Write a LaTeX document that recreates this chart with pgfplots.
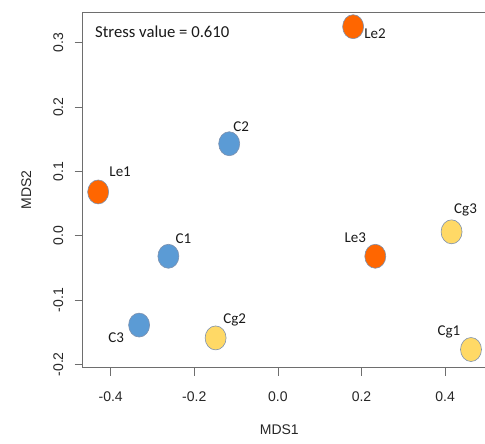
\documentclass[border=0pt]{standalone}
\usepackage{pgfplots}
\pgfplotsset{compat=1.18}
\usepackage{pgfplotstable}
\usepackage{fontspec}
\setmainfont{Liberation Sans}
\newfontfamily\carlito{Carlito}
\definecolor{cblue}{HTML}{5B9BD5}
\definecolor{corange}{HTML}{FF6600}
\definecolor{cyellow}{HTML}{FFD966}
\definecolor{cedge}{RGB}{125,145,175}
\definecolor{axgray}{RGB}{110,110,110}

\pgfplotstableread{
x y label dx dy
-0.430 0.068 Le1 22 20
0.180 0.325 Le2 22 -7
0.233 -0.032 Le3 -20 19
}\leTable
\pgfplotstableread{
x y label dx dy
-0.262 -0.032 C1 15 18
-0.1165 0.143 C2 12 17
-0.332 -0.139 C3 -23 -13
}\cTable
\pgfplotstableread{
x y label dx dy
0.462 -0.177 Cg1 -22 18
-0.149 -0.159 Cg2 19 18
0.4155 0.006 Cg3 14 22
}\cgTable

\begin{document}
\begin{tikzpicture}
\begin{axis}[
  at={(0,0)}, anchor=south west,
  scale only axis, width=402.3bp, height=355.4bp,
  xmin=-0.467, xmax=0.4955, ymin=-0.2053, ymax=0.3474,
  axis x line*=bottom, axis y line*=left,
  axis line style={draw=axgray, line width=0.6pt, -},
  every tick/.style={draw=axgray, line width=0.6pt},
  tick align=outside, major tick length=8bp,
  xtick={-0.4,-0.2,0,0.2,0.4},
  xticklabels={-0.4,-0.2,0.0,0.2,0.4},
  ytick={-0.2,-0.1,0,0.1,0.2,0.3},
  yticklabels={-0.2,-0.1,0.0,0.1,0.2,0.3},
  tick label style={font=\fontsize{14bp}{16bp}\selectfont, text=black!85},
  yticklabel style={rotate=90, anchor=south},
  xticklabel shift=13bp, yticklabel shift=8bp,
  every axis x label/.style={at={(axis description cs:0.4887,-0.1745)}, anchor=center},
  every axis y label/.style={at={(axis description cs:-0.14,0.5)}, anchor=center, rotate=90},
  label style={font=\fontsize{14bp}{16bp}\selectfont, text=black!85},
  xlabel={MDS1}, ylabel={MDS2},
  clip=false,
  nodes near coords,
  point meta=explicit symbolic,
  visualization depends on={\thisrow{dx} \as \dx},
  visualization depends on={\thisrow{dy} \as \dy},
  nodes near coords style={anchor=center, xshift=\dx bp, yshift=\dy bp,
     font=\carlito\fontsize{15bp}{17bp}\selectfont, text=black!90, inner sep=0pt},
]
\addplot[only marks, mark=*, mark size=12bp,
  mark options={xscale=0.875, fill=corange, draw=cedge, line width=0.6pt}]
  table[x=x, y=y, meta=label] {\leTable};
\addplot[only marks, mark=*, mark size=12bp,
  mark options={xscale=0.875, fill=cblue, draw=cedge, line width=0.6pt}]
  table[x=x, y=y, meta=label] {\cTable};
\addplot[only marks, mark=*, mark size=12bp,
  mark options={xscale=0.875, fill=cyellow, draw=cedge, line width=0.6pt}]
  table[x=x, y=y, meta=label] {\cgTable};
\draw[axgray, line width=0.6pt] (rel axis cs:0,1) -- (rel axis cs:1,1);
\node[anchor=west, font=\carlito\fontsize{16.7bp}{18bp}\selectfont, text=black!90, inner sep=0pt]
  at ([xshift=12.3bp, yshift=-19.5bp]rel axis cs:0,1) {Stress value = 0.610};
\end{axis}
\pgfresetboundingbox
\path[use as bounding box] (-82.7bp,-76.3bp) rectangle (402.3bp,367.7bp);
\end{tikzpicture}
\end{document}
